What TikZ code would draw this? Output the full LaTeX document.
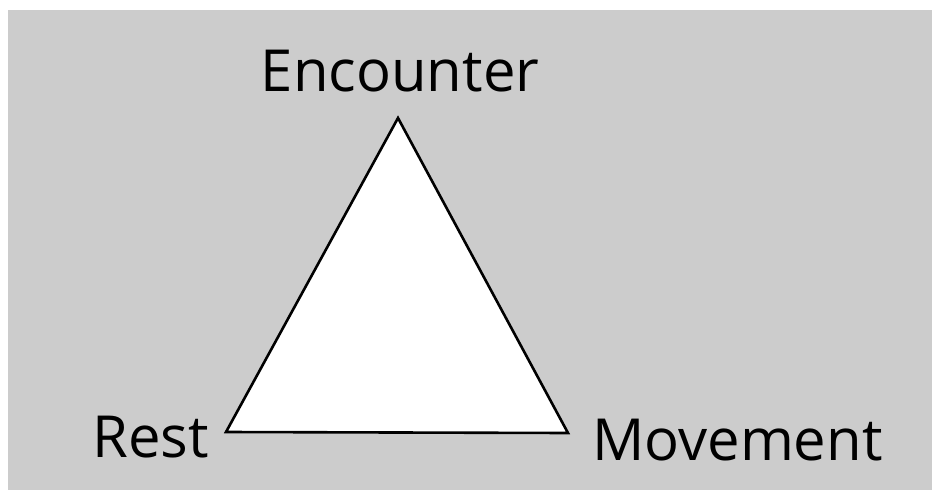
\documentclass[tikz,border=0pt]{standalone}
\usepackage{fontspec}
\setsansfont{Open Sans}
\usepackage{xcolor}
\usepackage{tikz}
\usetikzlibrary{positioning}

\definecolor{paper}{RGB}{204,204,204}

\begin{document}
\begin{tikzpicture}[
  x=1pt, y=-1pt,
  corner/.style={draw=none, fill=none, inner sep=0pt, font=\fontsize{58}{60}\sffamily},
  side/.style={draw=black, line width=2.6pt, line join=miter}
]
  \useasboundingbox (0,0) rectangle (939,497);
  \fill[paper] (8,10) rectangle (932,490);

  % corners of the triangle
  \coordinate (top) at (398,118);
  \coordinate (left) at (226,432);
  \coordinate (right) at (568,433);

  \fill[white] (top) -- (left) -- (right) -- cycle;
  \draw[side] (top) -- (left) -- (right) -- cycle;

  % names at the corners
  \node[corner, anchor=base] (enc) at (400,92) {Encounter};
  \node[corner, anchor=base west] (rest) at (92,457) {Rest};
  \node[corner, anchor=base west] (move) at (592,460) {Movement};
\end{tikzpicture}
\end{document}
